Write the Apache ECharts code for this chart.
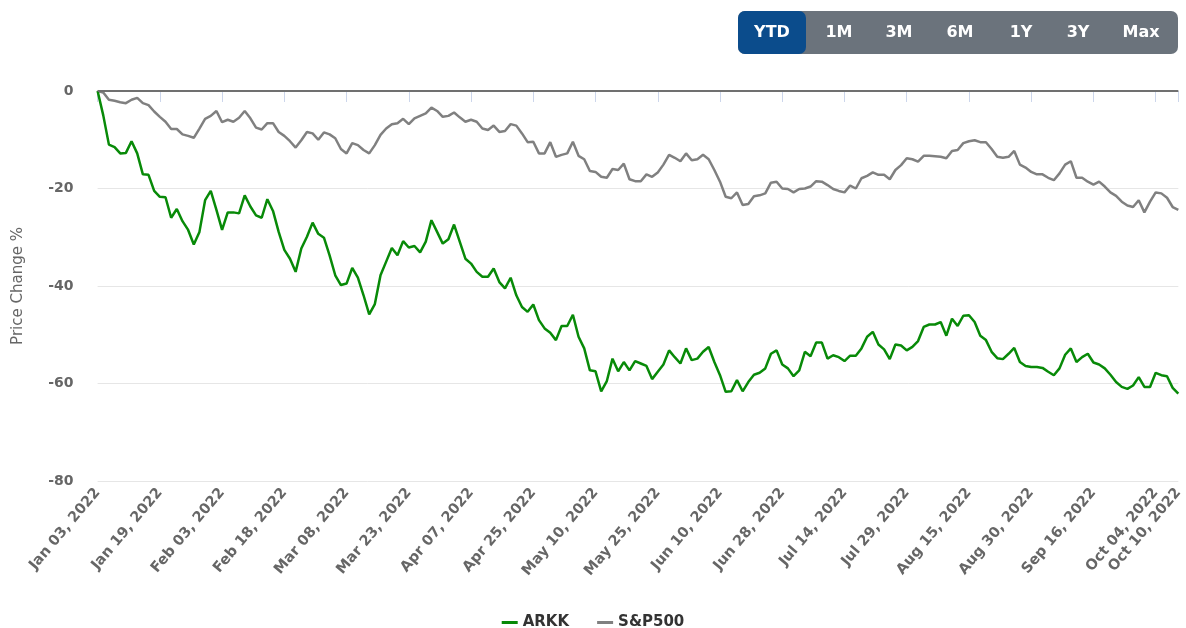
<!DOCTYPE html>
<html>
<head>
<meta charset="utf-8">
<script src="https://cdn.jsdelivr.net/npm/echarts@6/dist/echarts.min.js"></script>
<style>
html,body{margin:0;padding:0;background:#fff;}
#chart{width:1186px;height:628px;}
</style>
</head>
<body>
<div id="chart"></div>
<script>
const dates = [
"Jan 03, 2022","Jan 04, 2022","Jan 05, 2022","Jan 06, 2022","Jan 07, 2022","Jan 10, 2022","Jan 11, 2022","Jan 12, 2022","Jan 13, 2022","Jan 14, 2022",
"Jan 18, 2022","Jan 19, 2022","Jan 20, 2022","Jan 21, 2022","Jan 24, 2022","Jan 25, 2022","Jan 26, 2022","Jan 27, 2022","Jan 28, 2022","Jan 31, 2022",
"Feb 01, 2022","Feb 02, 2022","Feb 03, 2022","Feb 04, 2022","Feb 07, 2022","Feb 08, 2022","Feb 09, 2022","Feb 10, 2022","Feb 11, 2022","Feb 14, 2022",
"Feb 15, 2022","Feb 16, 2022","Feb 17, 2022","Feb 18, 2022","Feb 22, 2022","Feb 23, 2022","Feb 24, 2022","Feb 25, 2022","Feb 28, 2022","Mar 01, 2022",
"Mar 02, 2022","Mar 03, 2022","Mar 04, 2022","Mar 07, 2022","Mar 08, 2022","Mar 09, 2022","Mar 10, 2022","Mar 11, 2022","Mar 14, 2022","Mar 15, 2022",
"Mar 16, 2022","Mar 17, 2022","Mar 18, 2022","Mar 21, 2022","Mar 22, 2022","Mar 23, 2022","Mar 24, 2022","Mar 25, 2022","Mar 28, 2022","Mar 29, 2022",
"Mar 30, 2022","Mar 31, 2022","Apr 01, 2022","Apr 04, 2022","Apr 05, 2022","Apr 06, 2022","Apr 07, 2022","Apr 08, 2022","Apr 11, 2022","Apr 12, 2022",
"Apr 13, 2022","Apr 14, 2022","Apr 18, 2022","Apr 19, 2022","Apr 20, 2022","Apr 21, 2022","Apr 22, 2022","Apr 25, 2022","Apr 26, 2022","Apr 27, 2022",
"Apr 28, 2022","Apr 29, 2022","May 02, 2022","May 03, 2022","May 04, 2022","May 05, 2022","May 06, 2022","May 09, 2022","May 10, 2022","May 11, 2022",
"May 12, 2022","May 13, 2022","May 16, 2022","May 17, 2022","May 18, 2022","May 19, 2022","May 20, 2022","May 23, 2022","May 24, 2022","May 25, 2022",
"May 26, 2022","May 27, 2022","May 31, 2022","Jun 01, 2022","Jun 02, 2022","Jun 03, 2022","Jun 06, 2022","Jun 07, 2022","Jun 08, 2022","Jun 09, 2022",
"Jun 10, 2022","Jun 13, 2022","Jun 14, 2022","Jun 15, 2022","Jun 16, 2022","Jun 17, 2022","Jun 21, 2022","Jun 22, 2022","Jun 23, 2022","Jun 24, 2022",
"Jun 27, 2022","Jun 28, 2022","Jun 29, 2022","Jun 30, 2022","Jul 01, 2022","Jul 05, 2022","Jul 06, 2022","Jul 07, 2022","Jul 08, 2022","Jul 11, 2022",
"Jul 12, 2022","Jul 13, 2022","Jul 14, 2022","Jul 15, 2022","Jul 18, 2022","Jul 19, 2022","Jul 20, 2022","Jul 21, 2022","Jul 22, 2022","Jul 25, 2022",
"Jul 26, 2022","Jul 27, 2022","Jul 28, 2022","Jul 29, 2022","Aug 01, 2022","Aug 02, 2022","Aug 03, 2022","Aug 04, 2022","Aug 05, 2022","Aug 08, 2022",
"Aug 09, 2022","Aug 10, 2022","Aug 11, 2022","Aug 12, 2022","Aug 15, 2022","Aug 16, 2022","Aug 17, 2022","Aug 18, 2022","Aug 19, 2022","Aug 22, 2022",
"Aug 23, 2022","Aug 24, 2022","Aug 25, 2022","Aug 26, 2022","Aug 29, 2022","Aug 30, 2022","Aug 31, 2022","Sep 01, 2022","Sep 06, 2022","Sep 07, 2022",
"Sep 08, 2022","Sep 09, 2022","Sep 12, 2022","Sep 13, 2022","Sep 14, 2022","Sep 15, 2022","Sep 16, 2022","Sep 19, 2022","Sep 20, 2022","Sep 21, 2022",
"Sep 22, 2022","Sep 23, 2022","Sep 26, 2022","Sep 27, 2022","Sep 28, 2022","Sep 29, 2022","Oct 03, 2022","Oct 04, 2022","Oct 05, 2022","Oct 06, 2022",
"Oct 07, 2022","Oct 10, 2022"
];

const arkk = [
0,-5,-11,-11.5,-12.8,-12.7,-10.3,-12.8,-17.1,-17.2,
-20.5,-21.7,-21.8,-26,-24.2,-26.7,-28.5,-31.5,-28.9,-22.4,
-20.5,-24.4,-28.5,-24.9,-24.9,-25.1,-21.4,-23.7,-25.5,-26,
-22.2,-24.6,-28.9,-32.6,-34.4,-37.1,-32.3,-29.9,-27,-29.3,
-30.1,-33.7,-37.8,-39.8,-39.5,-36.3,-38.3,-41.9,-45.8,-43.7,
-37.8,-35,-32.2,-33.7,-30.8,-32.1,-31.8,-33.1,-30.9,-26.5,
-28.9,-31.3,-30.4,-27.4,-30.9,-34.4,-35.4,-37.1,-38.1,-38.1,
-36.4,-39.2,-40.5,-38.3,-41.9,-44.3,-45.3,-43.8,-47,-48.7,
-49.6,-51.1,-48.2,-48.2,-45.9,-50.4,-52.8,-57.3,-57.5,-61.6,
-59.5,-54.9,-57.5,-55.6,-57.3,-55.4,-55.9,-56.4,-59.1,-57.6,
-56.1,-53.2,-54.6,-55.9,-52.8,-55.2,-54.9,-53.5,-52.5,-55.6,
-58.3,-61.7,-61.6,-59.3,-61.6,-59.7,-58.2,-57.8,-56.9,-53.9,
-53.2,-56.1,-56.9,-58.5,-57.3,-53.5,-54.4,-51.6,-51.6,-54.9,
-54.2,-54.6,-55.4,-54.3,-54.3,-52.8,-50.4,-49.4,-52,-53,
-55,-52,-52.2,-53.2,-52.5,-51.3,-48.4,-47.9,-47.9,-47.4,
-50.2,-46.7,-48.2,-46.1,-46,-47.4,-50.2,-51.1,-53.5,-54.8,
-55,-53.9,-52.7,-55.6,-56.4,-56.6,-56.6,-56.8,-57.6,-58.3,
-56.9,-54.1,-52.8,-55.6,-54.6,-53.9,-55.7,-56.1,-56.9,-58.2,
-59.7,-60.7,-61.1,-60.4,-58.7,-60.7,-60.7,-57.8,-58.3,-58.5,
-60.9,-62.1
];

const sp500 = [
0,-0.3,-1.8,-2,-2.3,-2.5,-1.8,-1.4,-2.5,-2.9,
-4.2,-5.3,-6.3,-7.8,-7.8,-8.9,-9.2,-9.6,-7.7,-5.7,
-5.1,-4.1,-6.4,-5.9,-6.3,-5.5,-4.1,-5.6,-7.5,-7.9,
-6.6,-6.6,-8.4,-9.2,-10.3,-11.6,-10.1,-8.4,-8.7,-10,
-8.5,-8.9,-9.7,-11.9,-12.8,-10.7,-11.1,-12.1,-12.8,-11.1,
-9,-7.7,-6.8,-6.6,-5.7,-6.8,-5.6,-5.1,-4.6,-3.4,
-4.1,-5.3,-5.1,-4.4,-5.4,-6.3,-5.9,-6.3,-7.7,-8,
-7.1,-8.4,-8.2,-6.8,-7.1,-8.7,-10.5,-10.4,-12.8,-12.8,
-10.5,-13.5,-13.1,-12.8,-10.4,-13.3,-14,-16.4,-16.6,-17.6,
-17.8,-16,-16.2,-14.9,-18.1,-18.5,-18.5,-17.1,-17.6,-16.7,
-15.1,-13.1,-13.7,-14.4,-12.8,-14.2,-14,-13.1,-14,-16.2,
-18.6,-21.7,-22,-20.8,-23.4,-23.2,-21.6,-21.4,-21,-18.8,
-18.6,-20,-20.1,-20.8,-20.1,-20,-19.6,-18.5,-18.6,-19.3,
-20.1,-20.5,-20.8,-19.4,-20,-17.9,-17.4,-16.7,-17.2,-17.2,
-18.1,-16.2,-15.2,-13.8,-14,-14.5,-13.3,-13.3,-13.4,-13.5,
-13.8,-12.3,-12.1,-10.7,-10.3,-10.1,-10.5,-10.5,-11.9,-13.5,
-13.7,-13.5,-12.3,-15.1,-15.7,-16.6,-17.1,-17.1,-17.8,-18.3,
-16.9,-15.1,-14.4,-17.8,-17.8,-18.6,-19.2,-18.6,-19.6,-20.8,
-21.5,-22.7,-23.5,-23.8,-22.4,-24.9,-22.7,-20.8,-21,-21.9,
-23.8,-24.4
];

const seriesNames = ["ARKK", "S&P500"];
const rangeButtons = ["YTD", "1M", "3M", "6M", "1Y", "3Y", "Max"];
const yTicks = [-80, -60, -40, -20, 0];

const chart = echarts.init(document.getElementById('chart'), null, {renderer: 'canvas'});
const lastIdx = dates.length - 1;
const showLabel = (idx) => idx % 11 === 0 || idx === lastIdx;
const FONT = 'DejaVu Sans';

const btnCenters = [772, 839, 899, 960, 1021, 1078, 1141];
const graphics = [
  {type: 'rect', left: 738, top: 11, shape: {width: 440, height: 43, r: 7}, style: {fill: '#6b737c'}, z: 10},
  {type: 'rect', left: 738, top: 11, shape: {width: 68, height: 43, r: 7}, style: {fill: '#0b4c8c'}, z: 11}
];
rangeButtons.forEach((t, i) => {
  graphics.push({type: 'text', x: btnCenters[i], y: 33, z: 12,
    style: {text: t, fill: '#ffffff', font: 'bold 16px "' + FONT + '"', textAlign: 'center', textVerticalAlign: 'middle'}});
});

const option = {
  animation: false,
  backgroundColor: '#ffffff',
  grid: {left: 97.6, right: 5.3, top: 91, bottom: 147, containLabel: false},
  legend: {
    data: [
      {name: seriesNames[0], icon: 'rect', itemStyle: {color: '#088a08'}},
      {name: seriesNames[1], icon: 'rect', itemStyle: {color: '#808080'}}
    ],
    top: 610, left: 'center',
    itemWidth: 16, itemHeight: 3, itemGap: 28,
    textStyle: {fontFamily: FONT, fontWeight: 'bold', fontSize: 15, color: '#333333'}
  },
  graphic: graphics,
  xAxis: {
    type: 'category',
    data: dates,
    boundaryGap: false,
    axisLine: {lineStyle: {color: '#ccd6eb', width: 1}},
    axisTick: {show: true, interval: (idx) => showLabel(idx), length: 11, lineStyle: {color: '#ccd6eb'}},
    axisLabel: {
      interval: (idx) => showLabel(idx),
      rotate: 50,
      margin: 9,
      fontFamily: FONT, fontWeight: 'bold', fontSize: 14.5, color: '#666666'
    },
    splitLine: {show: false}
  },
  yAxis: {
    type: 'value',
    min: yTicks[0], max: yTicks[yTicks.length - 1], interval: 20,
    name: 'Price Change %',
    nameLocation: 'middle',
    nameGap: 72,
    nameTextStyle: {fontFamily: FONT, fontWeight: 'normal', fontSize: 15, color: '#666666'},
    axisLine: {show: false},
    axisTick: {show: false},
    axisLabel: {margin: 24, fontFamily: FONT, fontWeight: 'bold', fontSize: 14, color: '#666666'},
    splitLine: {lineStyle: {color: '#e6e6e6', width: 1}}
  },
  series: [
    {
      name: seriesNames[0], type: 'line', data: arkk, showSymbol: false, symbol: 'none',
      lineStyle: {color: '#088a08', width: 2.5}, itemStyle: {color: '#088a08'}, z: 3,
      markLine: {silent: true, symbol: 'none', label: {show: false},
        lineStyle: {color: '#707070', width: 2, type: 'solid'}, data: [{yAxis: 0}]}
    },
    {
      name: seriesNames[1], type: 'line', data: sp500, showSymbol: false, symbol: 'none',
      lineStyle: {color: '#808080', width: 2.5}, itemStyle: {color: '#808080'}, z: 2
    }
  ]
};
chart.setOption(option);
</script>
</body>
</html>
